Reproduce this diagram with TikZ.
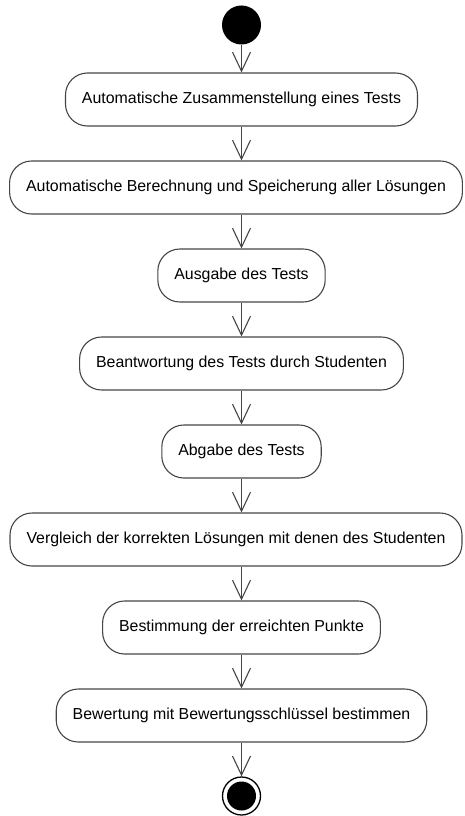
\documentclass[tikz,border=0pt]{standalone}
\usepackage{fontspec}
\setmainfont{Liberation Sans}
\usetikzlibrary{arrows.meta}
\definecolor{ln}{HTML}{454545}
\tikzset{
  act/.style={draw=ln, line width=1.1pt, rounded corners=22pt, minimum height=53pt, inner xsep=16.5pt, inner ysep=0pt, font=\fontsize{15.9}{18}\selectfont, text=black},
  flow/.style={draw=ln, line width=1.1pt, -{Straight Barb[length=19pt,width=18pt,line width=1.1pt]}},
}
\begin{document}
\begin{tikzpicture}[x=1pt,y=-1pt]
\useasboundingbox (0,0) rectangle (464,816);
\node[circle, fill=black, minimum size=39pt, inner sep=0pt] (start) at (241.5,25) {};
\node[act] (a1) at (241.5,99.5) {Automatische Zusammenstellung eines Tests};
\node[act] (a2) at (236,187.5) {Automatische Berechnung und Speicherung aller Lösungen};
\node[act] (a3) at (241.5,275.5) {Ausgabe des Tests};
\node[act] (a4) at (241.5,363.5) {Beantwortung des Tests durch Studenten};
\node[act] (a5) at (241.5,451.5) {Abgabe des Tests};
\node[act] (a6) at (236,539.5) {Vergleich der korrekten Lösungen mit denen des Studenten};
\node[act] (a7) at (241.5,627.5) {Bestimmung der erreichten Punkte};
\node[act] (a8) at (241.5,715.5) {Bewertung mit Bewertungsschlüssel bestimmen};
\node[circle, draw=black, line width=1.3pt, minimum size=38pt, inner sep=0pt] (end) at (241.5,796) {};
\fill[black] (end.center) circle (14.5pt);
\draw[flow] (start.south) -- (start.south |- a1.north);
\draw[flow] (a1) -- (a1 |- a2.north);
\draw[flow] (a1 |- a2.south) -- (a3);
\draw[flow] (a3) -- (a4);
\draw[flow] (a4) -- (a5);
\draw[flow] (a5) -- (a5 |- a6.north);
\draw[flow] (a5 |- a6.south) -- (a7);
\draw[flow] (a7) -- (a8);
\draw[flow] (a8) -- (end);
\end{tikzpicture}
\end{document}
